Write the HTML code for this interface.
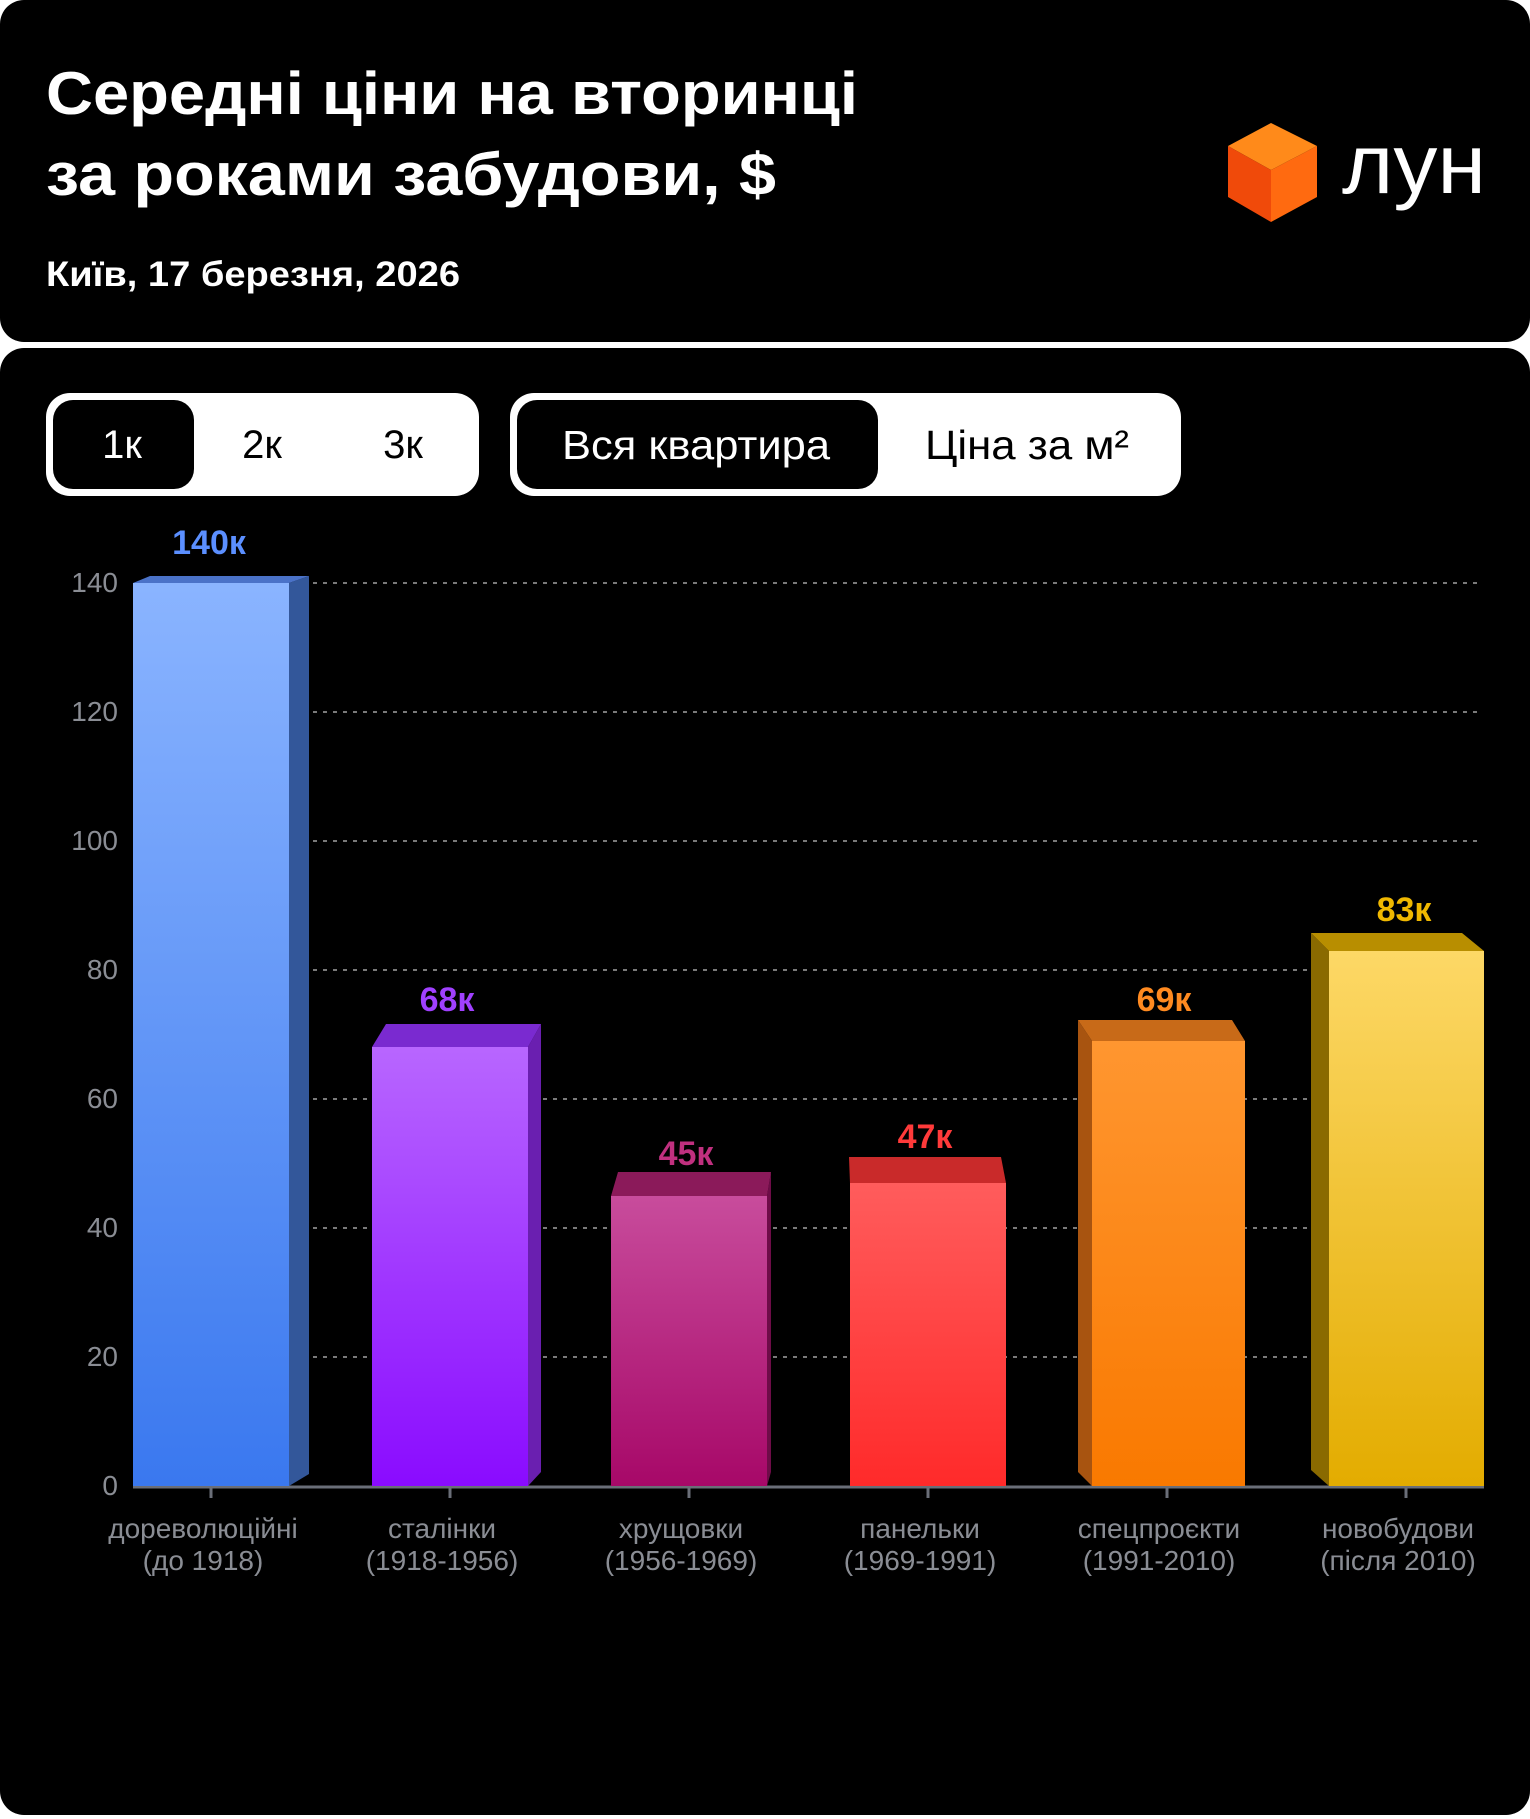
<!DOCTYPE html>
<html><head><meta charset="utf-8"><style>
html,body{margin:0;padding:0;background:#fff;width:1530px;height:1819px;overflow:hidden}
svg{display:block}
text{font-family:"Liberation Sans","Noto Sans CJK SC",sans-serif}
</style></head><body>
<svg width="1530" height="1819" viewBox="0 0 1530 1819" xmlns="http://www.w3.org/2000/svg">
<defs>
<linearGradient id="g1" x1="0" y1="0" x2="0" y2="1"><stop offset="0" stop-color="#8ab4ff"/><stop offset="1" stop-color="#3a78ef"/></linearGradient>
<linearGradient id="g2" x1="0" y1="0" x2="0" y2="1"><stop offset="0" stop-color="#b866ff"/><stop offset="1" stop-color="#8a0bff"/></linearGradient>
<linearGradient id="g3" x1="0" y1="0" x2="0" y2="1"><stop offset="0" stop-color="#c84c9c"/><stop offset="1" stop-color="#a70868"/></linearGradient>
<linearGradient id="g4" x1="0" y1="0" x2="0" y2="1"><stop offset="0" stop-color="#ff5c5c"/><stop offset="1" stop-color="#ff2a2a"/></linearGradient>
<linearGradient id="g5" x1="0" y1="0" x2="0" y2="1"><stop offset="0" stop-color="#ff9630"/><stop offset="1" stop-color="#f97900"/></linearGradient>
<linearGradient id="g6" x1="0" y1="0" x2="0" y2="1"><stop offset="0" stop-color="#fdd866"/><stop offset="1" stop-color="#e3ac00"/></linearGradient>
</defs>
<rect x="0" y="0" width="1530" height="342" rx="24" fill="#000"/>
<rect x="0" y="348" width="1530" height="1467" rx="24" fill="#000"/>
<text x="46" y="114" font-size="60" font-weight="bold" fill="#fff" textLength="812" lengthAdjust="spacingAndGlyphs">Середні ціни на вторинці</text>
<text x="46" y="195" font-size="60" font-weight="bold" fill="#fff" textLength="730" lengthAdjust="spacingAndGlyphs">за роками забудови, $</text>
<text x="46" y="286" font-size="35" font-weight="bold" fill="#fff" textLength="414" lengthAdjust="spacingAndGlyphs">Київ, 17 березня, 2026</text>
<!-- logo -->
<polygon points="1271,123 1317,146 1271,170 1228,146" fill="#ff8a1a"/>
<polygon points="1228,146 1271,170 1271,222 1228,197" fill="#f04a0a"/>
<polygon points="1271,170 1317,146 1317,197 1271,222" fill="#ff6a10"/>
<text x="1342" y="193" font-size="84" fill="#fff" textLength="144" lengthAdjust="spacingAndGlyphs">лун</text>
<!-- toggles -->
<rect x="46" y="393" width="433" height="103" rx="24" fill="#fff"/>
<rect x="53" y="400" width="141" height="89" rx="20" fill="#000"/>
<text x="122" y="458" font-size="40" fill="#fff" text-anchor="middle">1к</text>
<text x="262" y="458" font-size="40" fill="#000" text-anchor="middle">2к</text>
<text x="403" y="458" font-size="40" fill="#000" text-anchor="middle">3к</text>
<rect x="510" y="393" width="671" height="103" rx="24" fill="#fff"/>
<rect x="517" y="400" width="361" height="89" rx="20" fill="#000"/>
<text x="696" y="459" font-size="41" fill="#fff" text-anchor="middle" textLength="268" lengthAdjust="spacingAndGlyphs">Вся квартира</text>
<text x="1027" y="459" font-size="41" fill="#000" text-anchor="middle" textLength="204" lengthAdjust="spacingAndGlyphs">Ціна за м²</text>
<!-- grid -->
<g stroke="#7a7a7a" stroke-width="2" stroke-dasharray="4 6">
<line x1="313" y1="583" x2="1479" y2="583"/>
<line x1="313" y1="712" x2="1479" y2="712"/>
<line x1="313" y1="841" x2="1479" y2="841"/>
<line x1="313" y1="970" x2="1479" y2="970"/>
<line x1="313" y1="1099" x2="1479" y2="1099"/>
<line x1="313" y1="1228" x2="1479" y2="1228"/>
<line x1="313" y1="1357" x2="1479" y2="1357"/>
</g>
<g font-size="28" fill="#8a8d94" text-anchor="end">
<text x="118" y="592">140</text><text x="118" y="721">120</text><text x="118" y="850">100</text>
<text x="118" y="979">80</text><text x="118" y="1108">60</text><text x="118" y="1237">40</text>
<text x="118" y="1366">20</text><text x="118" y="1495">0</text>
</g>
<line x1="133" y1="1487" x2="1484" y2="1487" stroke="#6a6e78" stroke-width="3"/>
<g stroke="#6a6e78" stroke-width="3">
<line x1="211" y1="1487" x2="211" y2="1498"/><line x1="450" y1="1487" x2="450" y2="1498"/>
<line x1="689" y1="1487" x2="689" y2="1498"/><line x1="928" y1="1487" x2="928" y2="1498"/>
<line x1="1167" y1="1487" x2="1167" y2="1498"/><line x1="1406" y1="1487" x2="1406" y2="1498"/>
</g>
<!-- bars -->
<polygon points="289,583 309,576 309,1474 289,1486" fill="#33579a"/>
<polygon points="133,583 289,583 309,576 150,576" fill="#4a72c8"/>
<rect x="133" y="583" width="156" height="903" fill="url(#g1)"/>

<polygon points="528,1047 541,1024 541,1472 528,1486" fill="#6a1fb0"/>
<polygon points="372,1047 528,1047 541,1024 386,1024" fill="#7a2ad0"/>
<rect x="372" y="1047" width="156" height="439" fill="url(#g2)"/>

<polygon points="767,1196 771,1172 771,1472 767,1486" fill="#6e0c48"/>
<polygon points="611,1196 767,1196 771,1172 618,1172" fill="#8b1a5a"/>
<rect x="611" y="1196" width="156" height="290" fill="url(#g3)"/>

<polygon points="850,1183 1006,1183 1001,1157 849,1157" fill="#c92a2a"/>
<rect x="850" y="1183" width="156" height="303" fill="url(#g4)"/>

<polygon points="1092,1041 1078,1020 1078,1472 1092,1486" fill="#a85410"/>
<polygon points="1092,1041 1245,1041 1232,1020 1078,1020" fill="#c86a18"/>
<rect x="1092" y="1041" width="153" height="445" fill="url(#g5)"/>

<polygon points="1329,951 1311,933 1311,1470 1329,1486" fill="#8a6a00"/>
<polygon points="1329,951 1484,951 1462,933 1311,933" fill="#b88e00"/>
<rect x="1329" y="951" width="155" height="535" fill="url(#g6)"/>
<!-- value labels -->
<g font-size="34" font-weight="bold" text-anchor="middle">
<text x="209" y="554" fill="#5b8fff">140к</text>
<text x="447" y="1011" fill="#a040ff">68к</text>
<text x="686" y="1165" fill="#c0307f">45к</text>
<text x="925" y="1148" fill="#ff3a3a">47к</text>
<text x="1164" y="1011" fill="#ff8a20">69к</text>
<text x="1404" y="921" fill="#f0b800">83к</text>
</g>
<g font-size="28" fill="#8a8d94" text-anchor="middle">
<text x="203" y="1538">дореволюційні</text><text x="203" y="1570">(до 1918)</text>
<text x="442" y="1538">сталінки</text><text x="442" y="1570">(1918-1956)</text>
<text x="681" y="1538">хрущовки</text><text x="681" y="1570">(1956-1969)</text>
<text x="920" y="1538">панельки</text><text x="920" y="1570">(1969-1991)</text>
<text x="1159" y="1538">спецпроєкти</text><text x="1159" y="1570">(1991-2010)</text>
<text x="1398" y="1538">новобудови</text><text x="1398" y="1570">(після 2010)</text>
</g>
</svg>
</body></html>
